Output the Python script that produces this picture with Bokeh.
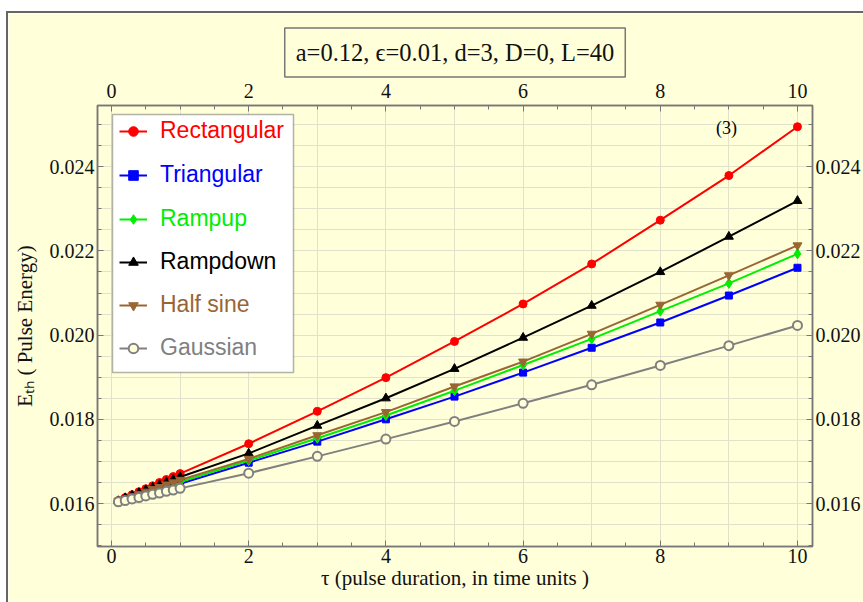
from bokeh.plotting import figure
from bokeh.models import (Range1d, LinearAxis, SingleIntervalTicker, PrintfTickFormatter,
                          Legend, LegendItem, Label, BoxAnnotation)
from bokeh.embed import file_html
from bokeh.resources import INLINE

# ---------------- data ----------------
tau = [0.1, 0.2, 0.3, 0.4, 0.5, 0.6, 0.7, 0.8, 0.9, 1.0, 2, 3, 4, 5, 6, 7, 8, 9, 10]

rectangular = [0.01607, 0.01614, 0.01621, 0.01628, 0.01635, 0.01642, 0.01650, 0.01657, 0.01664, 0.01671,
               0.01742, 0.01819, 0.01899, 0.01985, 0.02074, 0.02169, 0.02273, 0.02379, 0.02495]
triangular = [0.01605, 0.01609, 0.01614, 0.01619, 0.01623, 0.01628, 0.01633, 0.01638, 0.01642, 0.01647,
              0.01697, 0.01747, 0.01800, 0.01854, 0.01911, 0.01970, 0.02030, 0.02094, 0.02160]
rampup = [0.01605, 0.01610, 0.01615, 0.01620, 0.01626, 0.01631, 0.01636, 0.01641, 0.01646, 0.01651,
          0.01702, 0.01755, 0.01809, 0.01868, 0.01929, 0.01991, 0.02057, 0.02123, 0.02193]
rampdown = [0.01606, 0.01613, 0.01619, 0.01625, 0.01632, 0.01638, 0.01644, 0.01651, 0.01657, 0.01663,
            0.01719, 0.01785, 0.01850, 0.01920, 0.01994, 0.02070, 0.02150, 0.02234, 0.02319]
half_sine = [0.01606, 0.01611, 0.01617, 0.01622, 0.01628, 0.01634, 0.01639, 0.01645, 0.01650, 0.01656,
             0.01706, 0.01762, 0.01817, 0.01878, 0.01937, 0.02003, 0.02072, 0.02142, 0.02213]
gaussian = [0.01604, 0.01607, 0.01611, 0.01614, 0.01618, 0.01622, 0.01625, 0.01629, 0.01632, 0.01636,
            0.01672, 0.01712, 0.01753, 0.01795, 0.01838, 0.01882, 0.01928, 0.01975, 0.02023]

series_names = ["Rectangular", "Triangular", "Rampup", "Rampdown", "Half sine", "Gaussian"]
series_values = [rectangular, triangular, rampup, rampdown, half_sine, gaussian]
series_colors = ["#ff0000", "#0000ff", "#00ee00", "#000000", "#996633", "#808080"]
series_markers = ["circle", "square", "diamond", "triangle", "inverted_triangle", "circle"]
series_sizes = [8, 7, 10, 9, 9, 9]

title_text = "a=0.12, \u03f5=0.01, d=3, D=0, L=40"
x_label = "\u03c4 (pulse duration, in time units )"
y_label = "E\u209c\u2095 ( Pulse Energy)"

BG = "#ffffd9"
SERIF = "Liberation Serif"

# ---------------- figure ----------------
OX, OY = 8, 13            # page offset of the figure (css margin)
W, H = 863 - OX, 602 - OY
FL, FT, FR, FB = 97, 105, 812, 546   # plot frame on page

p = figure(width=W, height=H, output_backend="svg", toolbar_location=None,
           x_range=Range1d(-0.204, 10.219), y_range=Range1d(0.014979, 0.025454),
           min_border_left=FL - OX, min_border_top=FT - OY,
           min_border_right=W - (FR - OX), min_border_bottom=H - (FB - OY))
p.styles = {"margin-left": f"{OX}px", "margin-top": f"{OY}px",
            "outline": "2px solid #666666"}
p.background_fill_color = BG
p.border_fill_color = BG
p.outline_line_color = "#777777"
p.outline_line_width = 1.5

def sx(px):
    return px - FL
def sy(py):
    return FB - py

# ---------------- title ----------------
p.title.text = title_text
p.title.align = "center"
p.title.text_font = SERIF
p.title.text_font_size = "24.5px"
p.title.text_font_style = "normal"
p.title.text_color = "#111111"
p.title.background_fill_color = BG
p.title.border_line_color = "#777777"
p.title.border_line_width = 1.5
p.title.padding = 11
p.title.standoff = 7

# ---------------- axes ----------------
top_axis = LinearAxis()
right_axis = LinearAxis()
p.add_layout(top_axis, "above")
p.add_layout(right_axis, "right")

for ax in list(p.xaxis) + list(p.yaxis):
    ax.axis_line_color = "#777777"
    ax.axis_line_width = 1.5
    ax.major_tick_line_color = "#777777"
    ax.minor_tick_line_color = "#777777"
    ax.major_tick_in = 6
    ax.major_tick_out = 0
    ax.minor_tick_in = 4
    ax.minor_tick_out = 0
    ax.major_label_text_font = SERIF
    ax.major_label_text_font_size = "20px"
    ax.major_label_text_color = "#111111"

for ax in p.xaxis:
    ax.ticker = SingleIntervalTicker(interval=2, num_minor_ticks=4)
for ax in p.yaxis:
    ax.ticker = SingleIntervalTicker(interval=0.002, num_minor_ticks=4)
    ax.formatter = PrintfTickFormatter(format="%.3f")

bottom_axis = p.below[0]
left_axis = p.left[0]
bottom_axis.major_label_standoff = 2
top_axis.major_label_standoff = 8
left_axis.major_label_standoff = 3
right_axis.major_label_standoff = 3

bottom_axis.axis_label = x_label
bottom_axis.axis_label_standoff = 0
left_axis.axis_label = y_label
left_axis.axis_label_standoff = 10
for ax in (bottom_axis, left_axis):
    ax.axis_label_text_font = SERIF
    ax.axis_label_text_font_size = "21px"
    ax.axis_label_text_font_style = "normal"
    ax.axis_label_text_color = "#111111"

# grids
p.xgrid.ticker = SingleIntervalTicker(interval=1)
p.ygrid.ticker = SingleIntervalTicker(interval=0.0005)
p.xgrid.grid_line_color = "#e2e2cc"
p.ygrid.grid_line_color = "#e2e2cc"

# ---------------- series ----------------
items = []
for name, vals, col, mk, sz in zip(series_names, series_values, series_colors,
                                   series_markers, series_sizes):
    r_line = p.line(tau, vals, line_color=col, line_width=2)
    if name == "Gaussian":
        r_pts = p.scatter(tau, vals, marker=mk, size=sz, line_color=col, line_width=2,
                          fill_color=BG)
    else:
        r_pts = p.scatter(tau, vals, marker=mk, size=sz, line_color=col, fill_color=col)
    items.append(LegendItem(label=name, renderers=[r_line, r_pts]))

# legend frame
p.add_layout(BoxAnnotation(left=sx(112), right=sx(293), top=sy(114), bottom=sy(372),
                           left_units="screen", right_units="screen",
                           top_units="screen", bottom_units="screen",
                           fill_color="white", fill_alpha=1,
                           line_color="black", line_width=1.5))

centers = [132, 176, 220, 263, 306, 349]
for it, col, cy in zip(items, series_colors, centers):
    lg = Legend(items=[it], location=(sx(119), sy(cy + 12)),
                padding=0, margin=0, spacing=0,
                glyph_width=28, glyph_height=24, label_height=24,
                label_standoff=13,
                label_text_font="Liberation Sans", label_text_font_size="23px",
                label_text_color=col,
                border_line_alpha=0, background_fill_alpha=0)
    p.add_layout(lg)

p.add_layout(Label(x=sx(726), y=sy(127), x_units="screen", y_units="screen",
                   text="(3)", text_font=SERIF, text_font_size="18px",
                   text_color="#000000",
                   text_align="center", text_baseline="middle"))

open("out.html", "w").write(file_html(p, INLINE))
